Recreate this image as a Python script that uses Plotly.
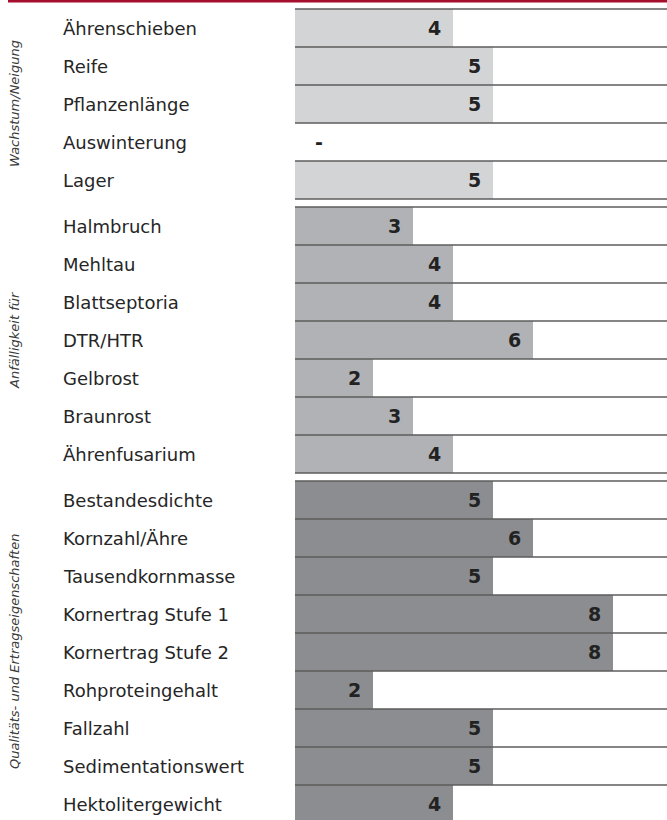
import plotly.graph_objects as go

# ---------------- data ----------------
group_titles = ["Wachstum/Neigung", "Anfälligkeit für", "Qualitäts- und Ertragseigenschaften"]

g1_labels = ["Ährenschieben", "Reife", "Pflanzenlänge", "Auswinterung", "Lager"]
g1_values = [4, 5, 5, None, 5]

g2_labels = ["Halmbruch", "Mehltau", "Blattseptoria", "DTR/HTR", "Gelbrost", "Braunrost", "Ährenfusarium"]
g2_values = [3, 4, 4, 6, 2, 3, 4]

g3_labels = ["Bestandesdichte", "Kornzahl/Ähre", "Tausendkornmasse", "Kornertrag Stufe 1",
             "Kornertrag Stufe 2", "Rohproteingehalt", "Fallzahl", "Sedimentationswert",
             "Hektolitergewicht"]
g3_values = [5, 6, 5, 8, 8, 2, 5, 5, 4]

group_colors = ["#d3d4d6", "#b1b2b5", "#8c8d90"]

# ---------------- layout constants ----------------
W, H = 667, 820
PLOT_LEFT = 295          # px where bar area begins
ROW_PX = 38.0            # row pitch in px
TOP_PX = 9.0             # top of first row
GAP = 8.0 / ROW_PX       # gap between groups in row units
X_RANGE = [0.05, 9.35]   # value scale

def px_to_paper_x(px):
    return (px - PLOT_LEFT) / (W - PLOT_LEFT)

groups = [(g1_labels, g1_values), (g2_labels, g2_values), (g3_labels, g3_values)]

fig = go.Figure()
shapes = []
annotations = []

LABEL_FONT = dict(family="DejaVu Sans", size=18, color="#262626")
NUM_FONT = dict(family="DejaVu Sans", size=19, color="#222222")

pos = 0.0
for gi, (labels, values) in enumerate(groups):
    g_top = pos
    centers = [pos + i + 0.5 for i in range(len(labels))]
    fig.add_trace(go.Bar(
        y=centers, x=[v if v is not None else 0 for v in values],
        orientation="h", width=1.0,
        marker=dict(color=group_colors[gi], line=dict(width=0)),
        hoverinfo="skip", showlegend=False,
    ))
    # row boundary lines
    for i in range(len(labels) + 1):
        yb = pos + i
        shapes.append(dict(type="line", xref="paper", yref="y", x0=0, x1=1, y0=yb, y1=yb,
                           line=dict(color="#5c5c5c", width=1.6), layer="above"))
    for c, lab, v in zip(centers, labels, values):
        annotations.append(dict(xref="paper", yref="y", x=px_to_paper_x(61), y=c,
                                text=lab, showarrow=False, xanchor="left", yanchor="middle",
                                font=LABEL_FONT))
        if v is None:
            annotations.append(dict(xref="paper", yref="y", x=px_to_paper_x(319), y=c,
                                    text="<b>-</b>", showarrow=False, xanchor="center",
                                    yanchor="middle", font=NUM_FONT))
        else:
            annotations.append(dict(xref="x", yref="y", x=v, y=c, xshift=-10,
                                    text="<b>%d</b>" % v, showarrow=False, xanchor="right",
                                    yanchor="middle", font=NUM_FONT))
    pos += len(labels)
    g_bottom = pos
    annotations.append(dict(xref="paper", yref="y", x=px_to_paper_x(14), y=(g_top + g_bottom) / 2,
                            text=group_titles[gi], showarrow=False, textangle=-90,
                            xanchor="center", yanchor="middle",
                            font=dict(family="DejaVu Sans", size=13, color="#3a3a3a",
                                      style="italic")))
    pos += GAP

# red top rule
shapes.append(dict(type="rect", xref="paper", yref="paper",
                   x0=px_to_paper_x(8), x1=1, y0=1 - 2.5 / H, y1=1,
                   fillcolor="#a50f2d", line=dict(width=0), layer="above"))

y_top = -TOP_PX / ROW_PX
y_bottom = (H - TOP_PX) / ROW_PX

fig.update_layout(
    width=W, height=H,
    margin=dict(l=PLOT_LEFT, r=0, t=0, b=0),
    paper_bgcolor="white", plot_bgcolor="white",
    bargap=0,
    xaxis=dict(range=X_RANGE, visible=False, fixedrange=True),
    yaxis=dict(range=[y_bottom, y_top], visible=False, fixedrange=True),
    shapes=shapes, annotations=annotations,
)

fig.write_html("out.html", config={"displayModeBar": False},
               post_script="document.body.style.margin='0';document.body.style.padding='0';")
